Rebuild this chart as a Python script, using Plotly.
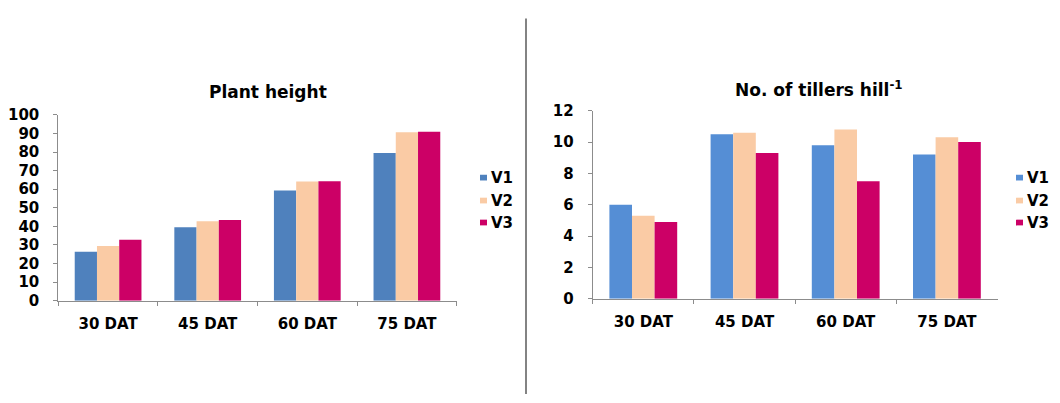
import plotly.graph_objects as go

W, H = 1060, 403

# ---- data -------------------------------------------------------------
stages = ["30 DAT", "45 DAT", "60 DAT", "75 DAT"]
varieties = ["V1", "V2", "V3"]

height_v1 = [26.3, 39.5, 59.3, 79.5]
height_v2 = [29.5, 42.8, 64.1, 90.7]
height_v3 = [32.8, 43.5, 64.3, 90.9]

tillers_v1 = [6.0, 10.5, 9.8, 9.2]
tillers_v2 = [5.3, 10.6, 10.8, 10.3]
tillers_v3 = [4.9, 9.3, 7.5, 10.0]

height_ticks = list(range(0, 101, 10))
tiller_ticks = list(range(0, 13, 2))

# ---- styling ----------------------------------------------------------
left_colors = ["#4F81BD", "#FACBA5", "#CC0066"]
right_colors = ["#558ED5", "#FACBA5", "#CC0066"]
FONT = "DejaVu Sans"
AXIS_GREY = "#8c8c8c"


def px_x(p):
    return p / W


def px_y(p):
    return (H - p) / H


fig = go.Figure()

for name, vals, col in zip(varieties, [height_v1, height_v2, height_v3], left_colors):
    fig.add_trace(go.Bar(x=stages, y=vals, name=name, marker=dict(color=col, line=dict(width=0)),
                         xaxis="x", yaxis="y", showlegend=False))

for name, vals, col in zip(varieties, [tillers_v1, tillers_v2, tillers_v3], right_colors):
    fig.add_trace(go.Bar(x=stages, y=vals, name=name, marker=dict(color=col, line=dict(width=0)),
                         xaxis="x2", yaxis="y2", showlegend=False))

tick_font = dict(family=FONT, size=15, color="black", weight="bold")


def xaxis_style(domain, anchor):
    return dict(domain=domain, anchor=anchor, type="category", showgrid=False,
                showline=True, linecolor=AXIS_GREY, linewidth=1,
                ticks="outside", tickson="boundaries", ticklen=4, tickcolor=AXIS_GREY,
                tickfont=tick_font, ticklabelstandoff=9, zeroline=False, fixedrange=True)


def yaxis_style(domain, anchor, rng, vals):
    return dict(domain=domain, anchor=anchor, range=rng, tickvals=vals, showgrid=False,
                showline=True, linecolor=AXIS_GREY, linewidth=1,
                ticks="outside", ticklen=4, tickcolor=AXIS_GREY,
                tickfont=tick_font, ticklabelstandoff=11, zeroline=False, fixedrange=True)


fig.update_layout(
    width=W, height=H,
    margin=dict(l=0, r=0, t=0, b=0),
    paper_bgcolor="white", plot_bgcolor="white",
    barmode="group", bargap=0.33, bargroupgap=0,
    showlegend=False,
    xaxis=xaxis_style([px_x(58.3), px_x(456.7)], "y"),
    yaxis=yaxis_style([px_y(305.3), px_y(110.9)], "x", [0, 100], height_ticks),
    xaxis2=xaxis_style([px_x(592.7), px_x(997.5)], "y2"),
    yaxis2=yaxis_style([px_y(303.3), px_y(106.5)], "x2", [0, 12], tiller_ticks),
)

# chart titles
title_font = dict(family=FONT, size=17, color="black", weight="bold")
fig.add_annotation(text="Plant height", x=px_x(268), y=px_y(87), xref="paper", yref="paper",
                   xanchor="center", yanchor="middle", showarrow=False, font=title_font)
fig.add_annotation(text="No. of tillers hill<sup>-1</sup>", x=px_x(819), y=px_y(84),
                   xref="paper", yref="paper", xanchor="center", yanchor="middle",
                   showarrow=False, font=title_font)

# hand-placed legends beside each panel
legend_rows = [176.5, 200.5, 223.5]
for sq_x, colors in [(480, left_colors), (1016, right_colors)]:
    for name, col, cy in zip(varieties, colors, legend_rows):
        fig.add_shape(type="rect", xref="paper", yref="paper",
                      x0=px_x(sq_x), x1=px_x(sq_x + 7), y0=px_y(cy + 3), y1=px_y(cy - 3),
                      fillcolor=col, line=dict(width=0))
        fig.add_annotation(text=name, x=px_x(sq_x + 9), y=px_y(cy), xref="paper", yref="paper",
                           xanchor="left", yanchor="middle", showarrow=False,
                           font=dict(family=FONT, size=15, color="black", weight="bold"))

# vertical divider between the two panels
fig.add_shape(type="line", xref="paper", yref="paper",
              x0=px_x(526), x1=px_x(526), y0=0, y1=px_y(10),
              line=dict(color="#5a5a5a", width=1.5))

fig.write_html("out.html", config={"displayModeBar": False})
